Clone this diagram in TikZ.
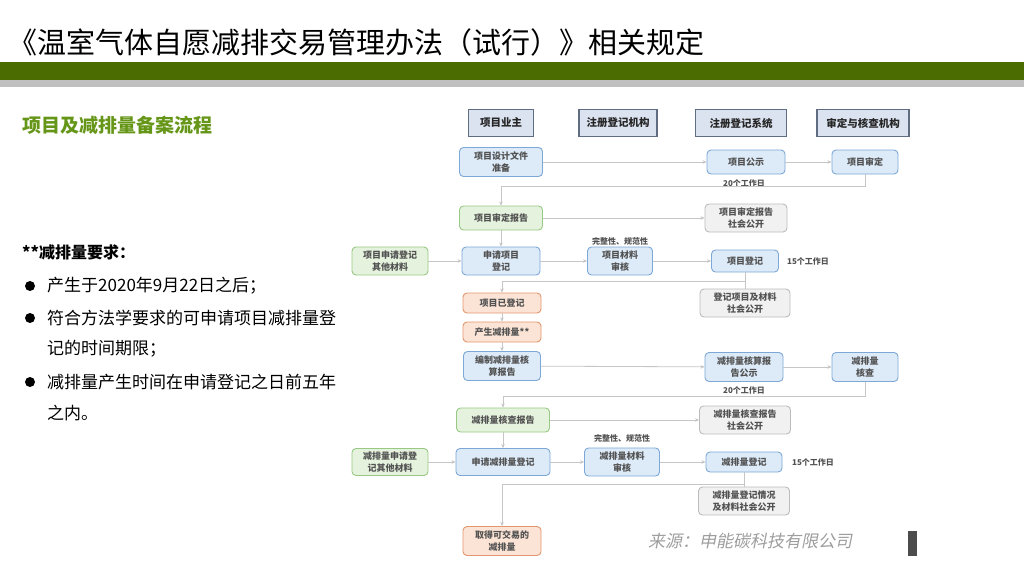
\documentclass[tikz,border=0pt]{standalone}
\usepackage{fontspec}
\setmainfont{Noto Sans CJK SC}
\newfontfamily\srcfont[FakeSlant=0.2]{Noto Sans CJK SC}
\usepackage{xcolor}
\usepackage{tikz}
\usetikzlibrary{arrows.meta,positioning}

\definecolor{barGreen}{RGB}{74,108,0}
\definecolor{barGray}{RGB}{192,192,192}
\definecolor{subGreen}{RGB}{102,150,24}
\definecolor{hdrFill}{RGB}{219,227,240}
\definecolor{hdrLine}{RGB}{95,108,130}
\definecolor{bluFill}{RGB}{221,234,248}
\definecolor{bluLine}{RGB}{125,168,214}
\definecolor{grnFill}{RGB}{229,242,221}
\definecolor{grnLine}{RGB}{152,200,132}
\definecolor{orgFill}{RGB}{251,228,214}
\definecolor{orgLine}{RGB}{228,150,110}
\definecolor{gryFill}{RGB}{241,241,241}
\definecolor{gryLine}{RGB}{188,188,188}
\definecolor{wireGray}{RGB}{198,198,198}

\begin{document}
\begin{tikzpicture}[
  x=1pt, y=-1pt,
  hdr/.style={draw=hdrLine, fill=hdrFill, line width=1.2pt, minimum height=27pt, inner sep=2pt, font=\fontsize{10.5}{12}\selectfont\bfseries, text=black!85},
  box/.style={draw, rounded corners=4pt, align=center, inner sep=2pt, line width=0.9pt, font=\fontsize{9}{12}\selectfont\bfseries, text=black!68},
  blu/.style={box, draw=bluLine, fill=bluFill},
  grn/.style={box, draw=grnLine, fill=grnFill},
  org/.style={box, draw=orgLine, fill=orgFill},
  gry/.style={box, draw=gryLine, fill=gryFill},
  note/.style={inner sep=1pt, font=\fontsize{8}{9}\selectfont\bfseries, text=black!68},
  body/.style={anchor=west, inner sep=0pt, font=\fontsize{17}{20}\selectfont},
  dot/.style={circle, fill=black, minimum size=10pt, inner sep=0pt},
  link/.style={draw=wireGray, line width=0.8pt},
  arr/.style={link, -{Stealth[length=4pt, width=3.5pt, fill=black!40]}},
]
  \useasboundingbox (0,0) rectangle (1024,576);
  \fill[white] (0,0) rectangle (1024,576);

  % title and bars
  \node[anchor=west, inner sep=0pt, font=\fontsize{29}{32}\selectfont] (title) at (8,42) {《温室气体自愿减排交易管理办法（试行）》相关规定};
  \fill[barGreen] (0,62) rectangle (1024,80);
  \fill[barGray] (0,80) rectangle (1024,87);

  % left column
  \node[anchor=west, inner sep=0pt, font=\fontsize{19}{22}\selectfont\bfseries, text=subGreen] (subtitle) at (22,125) {项目及减排量备案流程};
  \node[anchor=west, inner sep=0pt, font=\fontsize{16}{20}\selectfont\bfseries] (reqhead) at (22,252) {**减排量要求：};
  \node[dot] (dot1) at (30,286) {};
  \node[dot] (dot2) at (30,318) {};
  \node[dot] (dot3) at (30,382) {};
  \node[body] (req1)  at (47,286) {产生于2020年9月22日之后；};
  \node[body] (req2a) at (47,318) {符合方法学要求的可申请项目减排量登};
  \node[body] (req2b) at (47,349) {记的时间期限；};
  \node[body] (req3a) at (47,382) {减排量产生时间在申请登记之日前五年};
  \node[body] (req3b) at (47,413) {之内。};

  % swimlane heads
  \node[hdr, minimum width=65pt] (owner)    at (501,123) {项目业主};
  \node[hdr, minimum width=78pt] (registry) at (618,123) {注册登记机构};
  \node[hdr, minimum width=91pt] (system)   at (741,123) {注册登记系统};
  \node[hdr, minimum width=92pt] (verifier) at (863,123) {审定与核查机构};

  % project part
  \node[blu, minimum width=83pt, minimum height=29pt] (design)    at (501,162) {项目设计文件\\准备};
  \node[blu, minimum width=78pt, minimum height=24pt] (publicity) at (746,162) {项目公示};
  \node[note] (days1) at (744,183) {20个工作日};
  \node[blu, minimum width=66pt, minimum height=24pt] (validate)  at (865,162) {项目审定};

  \node[grn, minimum width=83pt, minimum height=24pt] (valreport) at (501,218) {项目审定报告};
  \node[gry, minimum width=82pt, minimum height=28pt] (valpub)    at (746,218) {项目审定报告\\社会公开};

  \node[grn, minimum width=76pt, minimum height=28pt] (projother) at (390,261) {项目申请登记\\其他材料};
  \node[blu, minimum width=78pt, minimum height=28pt] (projapply) at (501,261) {申请项目\\登记};
  \node[blu, minimum width=65pt, minimum height=28pt] (projcheck) at (620,261) {项目材料\\审核};
  \node[note] (projcheckn) at (620,241) {完整性、规范性};
  \node[blu, minimum width=67pt, minimum height=22pt] (projreg)   at (745,261) {项目登记};
  \node[note] (days2) at (808,261) {15个工作日};
  \node[gry, minimum width=90pt, minimum height=28pt] (projpub)   at (745,303) {登记项目及材料\\社会公开};

  % emission reduction part
  \node[org, minimum width=78pt, minimum height=20pt] (registered) at (502,303) {项目已登记};
  \node[org, minimum width=78pt, minimum height=20pt] (produce)    at (502,332) {产生减排量**};
  \node[blu, minimum width=77pt, minimum height=29pt] (calc)       at (502,366) {编制减排量核\\算报告};
  \node[blu, minimum width=78pt, minimum height=29pt] (calcpub)    at (744,367) {减排量核算报\\告公示};
  \node[note] (days3) at (744,390) {20个工作日};
  \node[blu, minimum width=66pt, minimum height=29pt] (verify)     at (865,367) {减排量\\核查};

  \node[grn, minimum width=93pt, minimum height=24pt] (verreport) at (503,420) {减排量核查报告};
  \node[gry, minimum width=91pt, minimum height=28pt] (verpub)    at (745,420) {减排量核查报告\\社会公开};

  \node[grn, minimum width=76pt, minimum height=27pt] (redother) at (390,462) {减排量申请登\\记其他材料};
  \node[blu, minimum width=94pt, minimum height=27pt] (redapply) at (503,462) {申请减排量登记};
  \node[blu, minimum width=75pt, minimum height=28pt] (redcheck) at (622,462) {减排量材料\\审核};
  \node[note] (redcheckn) at (622,438) {完整性、规范性};
  \node[blu, minimum width=76pt, minimum height=20pt] (redreg)   at (744,462) {减排量登记};
  \node[note] (days4) at (813,462) {15个工作日};
  \node[gry, minimum width=91pt, minimum height=28pt] (redpub)   at (744,501) {减排量登记情况\\及材料社会公开};
  \node[org, minimum width=78pt, minimum height=29pt] (tradable) at (502,541) {取得可交易的\\减排量};

  % connectors
  \draw[arr] (design) -- (publicity);
  \draw[arr] (publicity) -- (validate);
  \draw[arr] (validate.south) -- ++(0,12) -| (valreport.north);
  \draw[arr] (valreport) -- (valpub);
  \draw[arr] (valreport) -- (projapply);
  \draw[arr] (projother) -- (projapply);
  \draw[arr] (projapply) -- (projcheck);
  \draw[arr] (projcheck) -- (projreg);
  \draw[link] (projreg.south) -- (projreg.south |- projpub.north);
  \draw[arr] (projreg.south) ++(0,9) -| (registered.north);
  \draw[arr] (registered) -- (produce);
  \draw[arr] (produce) -- (calc);
  \draw[arr] (calc) -- (calcpub);
  \draw[arr] (calcpub) -- (verify);
  \draw[arr] (verify.south) -- ++(0,14) -| (verreport.north);
  \draw[arr] (verreport) -- (verpub);
  \draw[arr] (verreport) -- (redapply);
  \draw[arr] (redother) -- (redapply);
  \draw[arr] (redapply) -- (redcheck);
  \draw[arr] (redcheck) -- (redreg);
  \draw[link] (redreg.south) -- (redreg.south |- redpub.north);
  \draw[arr] (redreg.south) ++(0,12) -| (tradable.north);

  % source line
  \node[anchor=west, inner sep=0pt, font=\srcfont\fontsize{17}{20}\selectfont, text=black!38] (source) at (648,541) {来源：申能碳科技有限公司};
  \fill[black!70] (908,531) rectangle (917,556);
\end{tikzpicture}
\end{document}
